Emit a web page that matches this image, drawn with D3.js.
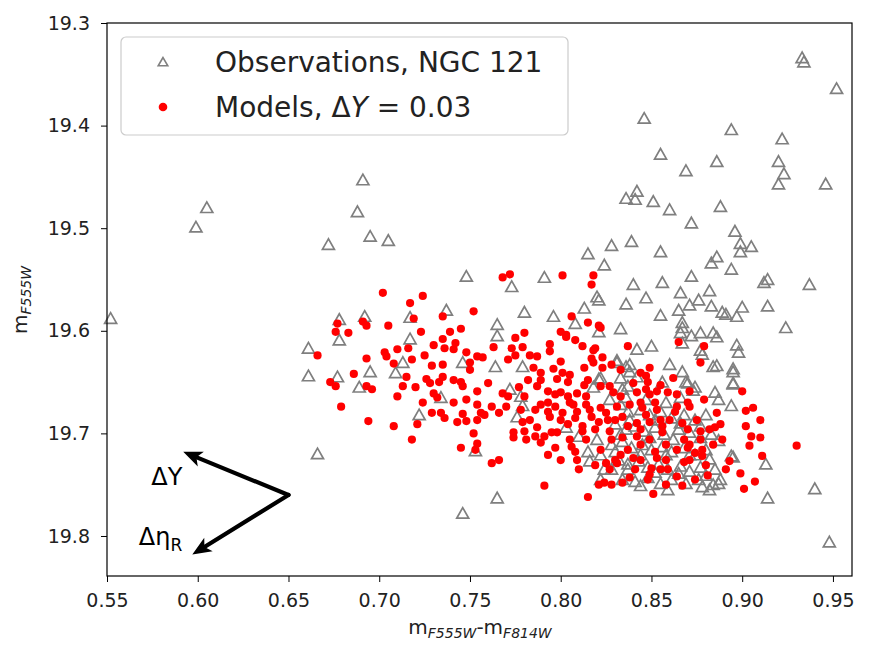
<!DOCTYPE html>
<html>
<head>
<meta charset="utf-8">
<script src="https://cdn.jsdelivr.net/npm/d3@7"></script>
<style>
  body { margin: 0; background: #fff; }
  svg text { font-family: "DejaVu Sans", sans-serif; fill: #222; }
</style>
</head>
<body>
<svg id="chart" width="871" height="659"></svg>
<script>
// observed stars, NGC 121  [colour, magnitude]
const observations = [
  [0.933,19.334],[0.934,19.338],[0.952,19.364],[0.846,19.393],[0.894,19.404],[0.922,19.413],[0.855,19.428],
  [0.886,19.435],[0.920,19.435],[0.923,19.447],[0.920,19.457],[0.946,19.457],[0.869,19.444],[0.842,19.464],
  [0.836,19.471],[0.841,19.472],[0.851,19.474],[0.860,19.482],[0.888,19.479],[0.872,19.495],[0.896,19.503],
  [0.899,19.515],[0.905,19.518],[0.899,19.523],[0.886,19.528],[0.883,19.534],[0.894,19.540],[0.828,19.517],
  [0.839,19.513],[0.855,19.523],[0.815,19.525],[0.824,19.536],[0.791,19.548],[0.773,19.557],[0.748,19.547],
  [0.840,19.555],[0.856,19.553],[0.872,19.547],[0.914,19.550],[0.912,19.553],[0.937,19.555],[0.866,19.563],
  [0.882,19.561],[0.847,19.568],[0.836,19.574],[0.876,19.570],[0.820,19.567],[0.821,19.570],[0.813,19.578],
  [0.780,19.582],[0.796,19.586],[0.855,19.585],[0.865,19.580],[0.871,19.575],[0.883,19.576],[0.889,19.582],
  [0.891,19.584],[0.897,19.586],[0.900,19.577],[0.914,19.576],[0.924,19.597],[0.867,19.592],[0.867,19.597],
  [0.866,19.602],[0.833,19.598],[0.808,19.593],[0.821,19.601],[0.765,19.594],[0.765,19.605],[0.877,19.602],
  [0.884,19.602],[0.886,19.606],[0.850,19.615],[0.842,19.618],[0.867,19.612],[0.877,19.619],[0.897,19.614],
  [0.898,19.621],[0.872,19.605],[0.764,19.635],[0.779,19.635],[0.831,19.629],[0.836,19.635],[0.860,19.633],
  [0.867,19.640],[0.884,19.635],[0.895,19.637],[0.895,19.652],[0.885,19.660],[0.887,19.667],[0.894,19.673],
  [0.856,19.650],[0.870,19.651],[0.873,19.658],[0.821,19.647],[0.818,19.655],[0.834,19.657],[0.772,19.657],
  [0.778,19.664],[0.779,19.673],[0.838,19.640],[0.833,19.646],[0.842,19.645],[0.869,19.650],[0.878,19.623],
  [0.886,19.634],[0.895,19.640],[0.822,19.646],[0.837,19.654],[0.874,19.655],[0.895,19.651],[0.838,19.633],
  [0.831,19.631],
  [0.678,19.589],[0.692,19.586],[0.717,19.587],[0.737,19.580],[0.678,19.609],[0.717,19.608],[0.661,19.617],
  [0.661,19.644],[0.677,19.645],[0.695,19.640],[0.689,19.655],[0.713,19.631],[0.709,19.641],[0.746,19.631],
  [0.734,19.665],[0.722,19.682],[0.666,19.720],[0.691,19.453],[0.605,19.480],[0.599,19.499],[0.688,19.484],
  [0.672,19.516],[0.695,19.508],[0.705,19.512],[0.552,19.588],[0.746,19.778],[0.765,19.763],[0.753,19.717],
  [0.776,19.684],[0.887,19.707],[0.895,19.723],[0.913,19.730],[0.914,19.763],[0.884,19.750],[0.878,19.752],
  [0.882,19.755],[0.815,19.718],[0.816,19.727],[0.940,19.754],[0.948,19.806],[0.887,19.749],[0.894,19.722],
  [0.833,19.672],[0.837,19.679],[0.844,19.677],[0.849,19.682],[0.855,19.679],[0.861,19.685],[0.868,19.682],
  [0.874,19.687],[0.880,19.682],[0.830,19.691],[0.836,19.696],[0.841,19.693],[0.846,19.698],[0.852,19.694],
  [0.857,19.701],[0.865,19.696],[0.871,19.699],[0.877,19.704],[0.883,19.701],[0.828,19.711],[0.834,19.708],
  [0.839,19.714],[0.845,19.711],[0.850,19.716],[0.856,19.713],[0.861,19.718],[0.868,19.714],[0.874,19.721],
  [0.880,19.716],[0.832,19.726],[0.837,19.730],[0.843,19.727],[0.848,19.733],[0.854,19.730],[0.859,19.735],
  [0.866,19.732],[0.871,19.737],[0.877,19.733],[0.834,19.745],[0.841,19.747],[0.848,19.743],[0.855,19.749],
  [0.861,19.745],[0.869,19.749],[0.876,19.745],[0.824,19.735],[0.822,19.721],[0.820,19.706],[0.882,19.725],
  [0.885,19.735],[0.803,19.694],[0.810,19.703],
  [0.827,19.667],[0.836,19.665],[0.847,19.667],[0.858,19.670],[0.866,19.665],[0.838,19.687],[0.852,19.687],
  [0.866,19.690],[0.833,19.701],[0.849,19.704],[0.862,19.706],[0.877,19.693],[0.830,19.718],[0.844,19.721],
  [0.858,19.721],[0.871,19.721],[0.837,19.735],[0.852,19.738],[0.865,19.739],[0.880,19.741],[0.844,19.751],
  [0.859,19.755],[0.828,19.735],[0.822,19.745],[0.888,19.745]
];

// synthetic population, delta Y = 0.03  [colour, magnitude]
const models = [
  [0.768,19.548],[0.772,19.545],[0.702,19.563],[0.724,19.566],[0.717,19.573],[0.752,19.581],[0.735,19.586],
  [0.719,19.588],[0.677,19.593],[0.676,19.601],[0.683,19.602],[0.691,19.591],[0.693,19.595],[0.705,19.595],
  [0.723,19.601],[0.739,19.601],[0.745,19.598],[0.666,19.624],[0.693,19.627],[0.703,19.621],[0.704,19.625],
  [0.710,19.618],[0.716,19.617],[0.718,19.628],[0.725,19.624],[0.730,19.614],[0.735,19.608],[0.742,19.612],
  [0.736,19.617],[0.741,19.618],[0.748,19.621],[0.754,19.625],[0.757,19.626],[0.750,19.631],[0.750,19.638],
  [0.763,19.616],[0.775,19.607],[0.779,19.616],[0.773,19.617],[0.775,19.624],[0.771,19.628],[0.780,19.602],
  [0.708,19.632],[0.729,19.634],[0.735,19.633],[0.686,19.642],[0.715,19.645],[0.673,19.650],[0.676,19.654],
  [0.693,19.654],[0.696,19.657],[0.713,19.654],[0.720,19.655],[0.726,19.647],[0.728,19.651],[0.735,19.645],
  [0.733,19.650],[0.741,19.648],[0.745,19.650],[0.746,19.654],[0.760,19.651],[0.730,19.661],[0.732,19.665],
  [0.710,19.664],[0.724,19.670],[0.741,19.670],[0.748,19.667],[0.754,19.659],[0.754,19.672],[0.762,19.674],
  [0.768,19.661],[0.771,19.664],[0.777,19.655],[0.780,19.664],[0.679,19.674],[0.783,19.624],
  [0.694,19.688],[0.708,19.693],[0.721,19.691],[0.718,19.706],[0.729,19.680],[0.734,19.680],[0.736,19.685],
  [0.746,19.681],[0.743,19.689],[0.748,19.688],[0.754,19.687],[0.752,19.700],[0.754,19.710],[0.753,19.716],
  [0.745,19.714],[0.762,19.729],[0.766,19.726],[0.756,19.680],[0.758,19.682],[0.766,19.680],[0.770,19.674],
  [0.779,19.689],[0.774,19.699],[0.774,19.704],[0.780,19.698],
  [0.801,19.546],[0.818,19.546],[0.817,19.555],[0.806,19.586],[0.815,19.592],[0.821,19.595],[0.822,19.597],
  [0.800,19.601],[0.803,19.606],[0.794,19.613],[0.812,19.615],[0.819,19.617],[0.787,19.625],[0.800,19.630],
  [0.817,19.627],[0.818,19.631],[0.823,19.626],[0.813,19.636],[0.823,19.636],[0.837,19.615],[0.865,19.611],
  [0.879,19.615],[0.877,19.631],[0.900,19.659],[0.862,19.646],[0.796,19.637],[0.789,19.641],[0.785,19.636],
  [0.801,19.641],[0.805,19.643],[0.789,19.648],[0.798,19.647],[0.804,19.650],[0.828,19.633],[0.849,19.636],
  [0.844,19.641],[0.840,19.651],[0.847,19.644],[0.848,19.650],[0.815,19.648],[0.822,19.654],[0.827,19.654],
  [0.829,19.660],[0.833,19.664],[0.787,19.654],[0.793,19.659],[0.800,19.660],[0.804,19.664],[0.809,19.661],
  [0.814,19.664],[0.793,19.670],[0.807,19.672],[0.842,19.660],[0.847,19.657],[0.849,19.662],[0.853,19.659],
  [0.859,19.660],[0.864,19.662],[0.870,19.670],[0.844,19.670],[0.852,19.670],[0.803,19.604],[0.818,19.619],
  [0.791,19.751],[0.810,19.735],[0.809,19.726],[0.821,19.750],[0.824,19.748],[0.834,19.748],[0.815,19.762],
  [0.848,19.745],[0.851,19.759],[0.864,19.742],[0.867,19.751],[0.881,19.741],[0.859,19.735],[0.868,19.728],
  [0.893,19.727],[0.899,19.739],[0.907,19.747],[0.901,19.754],[0.911,19.722],[0.904,19.712],[0.905,19.703],
  [0.910,19.704],[0.902,19.693],[0.910,19.687],[0.902,19.678],[0.906,19.675],[0.930,19.712],[0.886,19.680],
  [0.877,19.698],[0.882,19.696],[0.885,19.694],[0.888,19.691],[0.878,19.716],[0.874,19.719],[0.850,19.734],
  [0.844,19.726],[0.830,19.726],[0.831,19.729],[0.825,19.729],[0.805,19.706],[0.798,19.699],[0.795,19.699],
  [0.789,19.709],[0.797,19.714],[0.806,19.713],[0.814,19.706],[0.822,19.716],[0.837,19.716],[0.840,19.724],
  [0.844,19.711],[0.853,19.724],[0.858,19.711],[0.864,19.716],[0.868,19.706],[0.856,19.699],[0.849,19.706],
  [0.842,19.703],[0.834,19.704],[0.827,19.698],[0.819,19.696],[0.812,19.693],[0.804,19.691],[0.794,19.684],
  [0.787,19.694],[0.791,19.703],[0.786,19.703],[0.801,19.680],[0.809,19.679],[0.817,19.684],[0.826,19.687],
  [0.834,19.684],[0.842,19.690],[0.849,19.689],[0.856,19.693],[0.860,19.687],[0.867,19.690],[0.875,19.687],
  [0.831,19.674],[0.838,19.672],[0.845,19.675],[0.853,19.677],[0.864,19.674],[0.871,19.674],[0.789,19.672],
  [0.797,19.674],[0.805,19.670],[0.814,19.672],[0.822,19.675],[0.870,19.714],[0.878,19.722],[0.855,19.735],
  [0.786,19.677],[0.793,19.679],[0.800,19.687],[0.808,19.685],[0.816,19.677],[0.825,19.680],[0.830,19.687],
  [0.837,19.693],[0.847,19.682],[0.855,19.687],[0.863,19.679],[0.870,19.696],[0.877,19.706],[0.871,19.711],
  [0.852,19.718],[0.833,19.721],[0.827,19.735],[0.819,19.731],[0.800,19.726],[0.793,19.721],[0.783,19.687],
  [0.781,19.706],[0.778,19.677],[0.844,19.696],[0.828,19.706],[0.821,19.689],[0.812,19.698],[0.808,19.718],
  [0.841,19.735],[0.858,19.726],[0.871,19.726],[0.884,19.711],[0.889,19.706],[0.880,19.731],[0.891,19.735],
  [0.849,19.740],[0.838,19.743],[0.828,19.750],[0.858,19.750],[0.874,19.745],
  [0.794,19.620],[0.808,19.609],[0.782,19.648],[0.797,19.662],[0.813,19.653],[0.833,19.638],[0.855,19.653],
  [0.871,19.659],[0.879,19.667]
];

const xTicks = [0.55, 0.60, 0.65, 0.70, 0.75, 0.80, 0.85, 0.90, 0.95];
const yTicks = [19.3, 19.4, 19.5, 19.6, 19.7, 19.8];

// direction arrows: common origin, tips and label anchors
const arrowOrigin = [0.65, 19.76];
const arrowTips = [[0.592, 19.718], [0.597, 19.818]];
const arrowLabels = [[0.583, 19.750], [0.5675, 19.809]];

const svg = d3.select('#chart');
const box = { left: 107, right: 852, top: 23, bottom: 576 };

const x = d3.scaleLinear().domain([0.55, 0.9605]).range([box.left, box.right]);
const y = d3.scaleLinear().domain([19.3, 19.839]).range([box.top, box.bottom]);

// triangle outline like matplotlib '^'
const triPath = 'M0,-5.8L-6,4.8L6,4.8Z';

const plot = svg.append('g');

plot.append('g').selectAll('path').data(observations).enter().append('path')
  .attr('d', triPath)
  .attr('transform', d => `translate(${x(d[0])},${y(d[1])})`)
  .attr('fill', 'none').attr('stroke', '#7f7f7f').attr('stroke-width', 1.7);

plot.append('g').selectAll('circle').data(models).enter().append('circle')
  .attr('cx', d => x(d[0])).attr('cy', d => y(d[1])).attr('r', 4.1)
  .attr('fill', '#ff0000');

// arrows: shaft stops short of the tip, head drawn as a filled polygon
const ox = x(arrowOrigin[0]), oy = y(arrowOrigin[1]);
const headLen = 19, headHalf = 8;
const arrows = plot.append('g');
arrowTips.forEach(t => {
  const tx = x(t[0]), ty = y(t[1]);
  const len = Math.hypot(tx - ox, ty - oy);
  const ux = (tx - ox) / len, uy = (ty - oy) / len;
  const bx = tx - ux * headLen, by = ty - uy * headLen;
  arrows.append('line')
    .attr('x1', ox).attr('y1', oy)
    .attr('x2', tx - ux * headLen * 0.6).attr('y2', ty - uy * headLen * 0.6)
    .attr('stroke', '#000').attr('stroke-width', 4.2).attr('stroke-linecap', 'round');
  const pts = [
    [tx, ty],
    [bx - uy * headHalf, by + ux * headHalf],
    [tx - ux * headLen * 0.75, ty - uy * headLen * 0.75],
    [bx + uy * headHalf, by - ux * headHalf]
  ];
  arrows.append('path').attr('d', d3.line()(pts) + 'Z').attr('fill', '#000');
});

svg.append('text').attr('x', x(arrowLabels[0][0])).attr('y', y(arrowLabels[0][1]))
  .attr('text-anchor', 'middle').attr('font-size', 24).style('fill', '#000').text('ΔY');
const lab2 = svg.append('text').attr('x', x(arrowLabels[1][0])).attr('y', y(arrowLabels[1][1]))
  .attr('font-size', 24).style('fill', '#000');
lab2.append('tspan').text('Δη');
lab2.append('tspan').attr('font-size', 17).attr('dy', 6).text('R');

// axes
const xAxis = d3.axisBottom(x).tickValues(xTicks).tickFormat(d3.format('.2f')).tickSize(6).tickPadding(12);
const yAxis = d3.axisLeft(y).tickValues(yTicks).tickFormat(d3.format('.1f')).tickSize(6).tickPadding(11);

const gx = svg.append('g').attr('transform', `translate(0,${box.bottom})`).call(xAxis);
const gy = svg.append('g').attr('transform', `translate(${box.left},0)`).call(yAxis);
[gx, gy].forEach(g => {
  g.select('.domain').remove();
  g.selectAll('.tick line').attr('stroke', '#000').attr('stroke-width', 1);
  g.selectAll('.tick text').attr('font-size', 19).attr('font-family', '"DejaVu Sans", sans-serif').style('fill', '#222');
});

svg.append('rect').attr('x', box.left).attr('y', box.top)
  .attr('width', box.right - box.left).attr('height', box.bottom - box.top)
  .attr('fill', 'none').attr('stroke', '#000').attr('stroke-width', 1.2);

// axis labels
const xl = svg.append('text').attr('x', 480).attr('y', 634).attr('text-anchor', 'middle').attr('font-size', 20);
xl.append('tspan').text('m');
xl.append('tspan').attr('font-size', 14).attr('font-style', 'italic').attr('dy', 4).text('F555W');
xl.append('tspan').attr('dy', -4).text('-m');
xl.append('tspan').attr('font-size', 14).attr('font-style', 'italic').attr('dy', 4).text('F814W');

const yl = svg.append('text').attr('transform', 'translate(27,300) rotate(-90)')
  .attr('text-anchor', 'middle').attr('font-size', 20);
yl.append('tspan').text('m');
yl.append('tspan').attr('font-size', 14).attr('font-style', 'italic').attr('dy', 4).text('F555W');

// legend
const lg = svg.append('g');
lg.append('rect').attr('x', 121).attr('y', 37).attr('width', 447).attr('height', 98).attr('rx', 5)
  .attr('fill', 'rgba(255,255,255,0.85)').attr('stroke', '#cccccc').attr('stroke-width', 1.2);
lg.append('path').attr('d', 'M0,-4.5L-4.8,3.8L4.8,3.8Z').attr('transform', 'translate(163,62)')
  .attr('fill', 'none').attr('stroke', '#808080').attr('stroke-width', 1.6);
lg.append('circle').attr('cx', 163).attr('cy', 107).attr('r', 4.3).attr('fill', '#ff0000');
lg.append('text').attr('x', 215).attr('y', 72).attr('font-size', 28).text('Observations, NGC 121');
const l2 = lg.append('text').attr('x', 215).attr('y', 117).attr('font-size', 28);
l2.append('tspan').text('Models, Δ');
l2.append('tspan').attr('font-style', 'italic').text('Y');
l2.append('tspan').text(' = 0.03');
</script>
</body>
</html>
